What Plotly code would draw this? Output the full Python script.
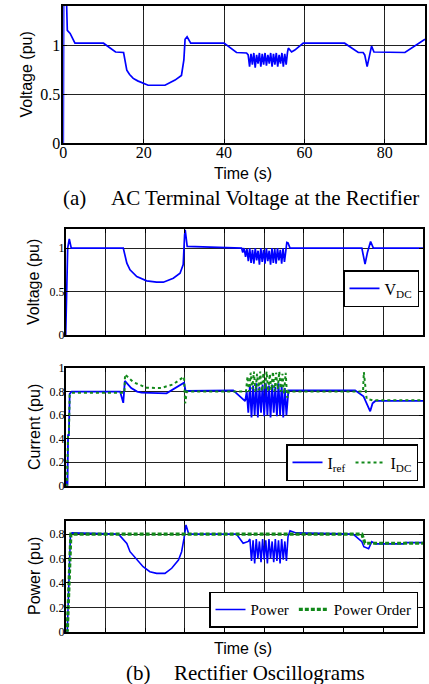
import plotly.graph_objects as go

# ---------------- data ----------------
# (a) AC terminal voltage at the rectifier
t_ac = [0, 0.1, 0.8, 1.0, 1.7, 2.9, 10.0, 13.0, 15.0, 15.8, 16.5, 17.4, 18.5, 19.9, 21.1, 25.3, 27.8,
        29.4, 30.0, 30.3, 30.8, 31.7, 40.0, 43.1, 45.6,
        46.0, 46.35, 46.7, 47.05, 47.4, 47.75, 48.1, 48.45, 48.8, 49.15, 49.5, 49.85, 50.2, 50.55,
        50.9, 51.25, 51.6, 51.95, 52.3, 52.65, 53.0, 53.35, 53.7, 54.05, 54.4, 54.75, 55.1, 55.45,
        55.8, 56.0, 56.8, 57.6, 59.7, 70.0, 73.4, 74.6, 75.0, 75.6, 76.7, 77.3, 85.0, 90.0]
v_ac = [0, 1.5, 1.45, 1.15, 1.12, 1.02, 1.02, 0.93, 0.925, 0.745, 0.70, 0.66, 0.635, 0.61, 0.59, 0.59, 0.643,
        0.69, 0.85, 1.06, 1.085, 1.02, 1.02, 0.925, 0.92,
        0.90, 0.78, 0.91, 0.80, 0.92, 0.77, 0.90, 0.81, 0.92, 0.78, 0.91, 0.80, 0.92, 0.79,
        0.90, 0.81, 0.92, 0.78, 0.91, 0.80, 0.92, 0.78, 0.90, 0.81, 0.92, 0.78, 0.91, 0.80,
        0.93, 0.97, 0.93, 0.95, 1.02, 1.02, 0.925, 0.925, 0.90, 0.78, 0.99, 0.93, 0.925, 1.06]

# (b) DC voltage
t_vdc = [0, 0.2, 0.35, 0.5, 0.9, 1.4, 14.5, 15.4, 16.2, 17.9, 20.4, 22.9, 24.6, 27.1, 28.8, 29.6,
         29.95, 30.1, 30.6, 44.3,
         44.6, 44.95, 45.3, 45.65, 46.0, 46.35, 46.7, 47.05, 47.4, 47.75, 48.1, 48.45, 48.8, 49.15,
         49.5, 49.85, 50.2, 50.55, 50.9, 51.25, 51.6, 51.95, 52.3, 52.65, 53.0, 53.35, 53.7, 54.05,
         54.4, 54.75, 55.1, 55.45,
         55.7, 56.0, 56.5, 74.6, 75.4, 76.0, 76.8, 77.5, 90.0]
v_dc = [0, 0.4, 0.85, 1.0, 1.107, 1.0, 1.0, 0.827, 0.75, 0.672, 0.623, 0.608, 0.608, 0.654, 0.71, 0.81,
        1.15, 1.21, 1.02, 1.0,
        0.95, 1.0, 0.90, 0.99, 0.85, 1.0, 0.83, 0.98, 0.82, 1.0, 0.86, 0.97, 0.81, 1.0,
        0.84, 0.98, 0.82, 1.0, 0.85, 0.97, 0.81, 1.0, 0.83, 0.99, 0.82, 1.0, 0.86, 0.98,
        0.82, 1.0, 0.84, 0.99,
        1.065, 1.06, 1.0, 1.0, 0.815, 0.95, 1.076, 1.0, 1.0]

# (b) currents
t_iref = [0, 0.15, 0.3, 0.45, 0.6, 0.8, 1.0, 1.5, 13.7, 14.5, 14.9, 16.5, 18.0, 19.1, 25.4, 29.8, 30.2,
          42.2, 45.2,
          45.6, 46.0, 46.4, 46.8, 47.2, 47.6, 48.0, 48.4, 48.8, 49.2, 49.6, 50.0, 50.4, 50.8, 51.2,
          51.6, 52.0, 52.4, 52.8, 53.2, 53.6, 54.0, 54.4, 54.8, 55.2, 55.6,
          56.1, 56.5, 72.9, 75.0, 76.7, 77.3, 78.0, 90.0]
i_ref = [0, 0.06, 0.0, 0.0, 0.43, 0.43, 0.78, 0.80, 0.80, 0.704, 0.89, 0.83, 0.80, 0.79, 0.785, 0.875, 0.805,
         0.81, 0.718,
         0.80, 0.62, 0.86, 0.58, 0.85, 0.60, 0.87, 0.58, 0.84, 0.62, 0.86, 0.59, 0.87, 0.60, 0.85,
         0.58, 0.86, 0.62, 0.84, 0.59, 0.87, 0.60, 0.85, 0.58, 0.83, 0.60,
         0.81, 0.81, 0.81, 0.76, 0.632, 0.70, 0.72, 0.72]

t_idc = [0, 0.3, 0.6, 0.8, 1.0, 1.5, 14.8, 14.95, 17.0, 20.4, 24.0, 27.0, 29.8, 30.1, 30.5, 45.2,
         45.4, 45.8, 46.2, 46.6, 47.0, 47.4, 47.8, 48.2, 48.6, 49.0, 49.4, 49.8, 50.2, 50.6, 51.0,
         51.4, 51.8, 52.2, 52.6, 53.0, 53.4, 53.8, 54.2, 54.6, 55.0, 55.4,
         55.8, 56.2, 74.9, 75.1, 75.8, 77.3, 90.0]
i_dc = [0, 0.0, 0.43, 0.43, 0.77, 0.79, 0.79, 0.946, 0.88, 0.832, 0.83, 0.86, 0.926, 0.70, 0.80, 0.80,
        0.80, 0.93, 0.80, 0.96, 0.82, 0.97, 0.80, 0.95, 0.81, 0.97, 0.80, 0.96, 0.82, 0.97, 0.80,
        0.95, 0.81, 0.97, 0.80, 0.96, 0.82, 0.97, 0.80, 0.95, 0.78, 0.96,
        0.747, 0.80, 0.80, 0.966, 0.738, 0.725, 0.725]

# (b) power
t_pord = [0, 0.4, 1.3, 74.6, 75.4, 90.0]
p_ord = [0, 0, 0.80, 0.80, 0.725, 0.725]

t_pow = [0, 0.4, 1.2, 1.6, 13.3, 14.5, 15.4, 16.2, 17.9, 19.5, 21.2, 22.9, 25.0, 26.7, 28.4, 29.2,
         29.8, 30.3, 31.0, 43.0, 44.7, 46.0,
         46.4, 46.8, 47.2, 47.6, 48.0, 48.4, 48.8, 49.2, 49.6, 50.0, 50.4, 50.8, 51.2, 51.6, 52.0,
         52.4, 52.8, 53.2, 53.6, 54.0, 54.4, 54.8, 55.2, 55.6,
         56.0, 56.5, 58.0, 72.4, 74.6, 75.1, 76.3, 77.1, 78.0, 85.0, 85.5, 90.0]
p_pow = [0, 0, 0.80, 0.81, 0.80, 0.752, 0.724, 0.656, 0.588, 0.533, 0.492, 0.478, 0.478, 0.52, 0.588, 0.656,
         0.765, 0.875, 0.80, 0.80, 0.725, 0.74,
         0.76, 0.58, 0.75, 0.56, 0.76, 0.60, 0.74, 0.57, 0.76, 0.59, 0.75, 0.56, 0.76, 0.60, 0.74,
         0.57, 0.76, 0.58, 0.75, 0.56, 0.76, 0.59, 0.74, 0.58,
         0.78, 0.828, 0.81, 0.80, 0.738, 0.697, 0.68, 0.738, 0.72, 0.72, 0.73, 0.73]

BLUE = "#0000FF"
GREEN = "#12891A"
SERIF = "Liberation Serif, Times New Roman, serif"
SANS = "Liberation Sans, Arial, sans-serif"

W, H = 429, 684


def px_x(p):
    return p / W


def px_y(p):
    return 1 - p / H


fig = go.Figure()

fig.add_trace(go.Scatter(x=t_ac, y=v_ac, mode="lines", line=dict(color=BLUE, width=1.7),
                         xaxis="x", yaxis="y", showlegend=False))
fig.add_trace(go.Scatter(x=t_vdc, y=v_dc, mode="lines", name="V<sub>DC</sub>",
                         line=dict(color=BLUE, width=1.7), xaxis="x2", yaxis="y2", legend="legend"))
fig.add_trace(go.Scatter(x=t_iref, y=i_ref, mode="lines", name="I<sub>ref</sub>",
                         line=dict(color=BLUE, width=1.8), xaxis="x3", yaxis="y3", legend="legend2"))
fig.add_trace(go.Scatter(x=t_idc, y=i_dc, mode="lines", name="I<sub>DC</sub>",
                         line=dict(color=GREEN, width=2, dash="dot"), xaxis="x3", yaxis="y3", legend="legend2"))
fig.add_trace(go.Scatter(x=t_pow, y=p_pow, mode="lines", name="Power",
                         line=dict(color=BLUE, width=1.6), xaxis="x4", yaxis="y4", legend="legend3"))
fig.add_trace(go.Scatter(x=t_pord, y=p_ord, mode="lines", name="Power Order",
                         line=dict(color=GREEN, width=3.2, dash="4px,2px"), xaxis="x4", yaxis="y4",
                         legend="legend3"))

common = dict(showline=True, linecolor="black", linewidth=1.5, mirror="ticks", ticks="inside",
              ticklen=4, tickcolor="black", showgrid=True, gridcolor="#222222", gridwidth=1,
              zeroline=False, automargin=False)

xa_dom = [px_x(63.3), px_x(425)]
xb_dom = [px_x(65.7), px_x(423)]

layout = dict(
    width=W, height=H, autosize=False, margin=dict(l=0, r=0, t=0, b=0, pad=0),
    paper_bgcolor="white", plot_bgcolor="white",
    xaxis=dict(domain=xa_dom, anchor="y", range=[0, 90], tickvals=[0, 20, 40, 60, 80],
               tickfont=dict(family=SERIF, size=16, color="black"), ticklabelstandoff=-6, **common),
    yaxis=dict(domain=[px_y(143), px_y(6)], anchor="x", range=[0, 1.4], tickvals=[0, 0.5, 1],
               ticktext=["0", "0.5", "1"], tickfont=dict(family=SERIF, size=16, color="black"),
               ticklabelstandoff=-2, **common),
    xaxis2=dict(domain=xb_dom, anchor="y2", range=[0, 90], dtick=10, tick0=0, showticklabels=False, **common),
    yaxis2=dict(domain=[px_y(335), px_y(229)], anchor="x2", range=[0, 1.22], tickvals=[0, 0.5, 1],
                ticktext=["0", "0.5", "1"], tickfont=dict(family=SERIF, size=12, color="black"),
                ticklabelstandoff=-3, **common),
    xaxis3=dict(domain=xb_dom, anchor="y3", range=[0, 90], dtick=10, tick0=0, showticklabels=False, **common),
    yaxis3=dict(domain=[px_y(485.7), px_y(368)], anchor="x3", range=[0, 1.0],
                tickvals=[0, 0.2, 0.4, 0.6, 0.8, 1.0], ticktext=["0", "0.2", "0.4", "0.6", "0.8", "1"],
                tickfont=dict(family=SERIF, size=12, color="black"), ticklabelstandoff=-3, **common),
    xaxis4=dict(domain=xb_dom, anchor="y4", range=[0, 90], dtick=10, tick0=0, showticklabels=False, **common),
    yaxis4=dict(domain=[px_y(631.7), px_y(520.7)], anchor="x4", range=[0, 0.91],
                tickvals=[0, 0.2, 0.4, 0.6, 0.8], ticktext=["0", "0.2", "0.4", "0.6", "0.8"],
                tickfont=dict(family=SERIF, size=12, color="black"), ticklabelstandoff=-3, **common),
    legend=dict(x=px_x(419), y=px_y(307), xanchor="right", yanchor="bottom",
                bgcolor="white", bordercolor="black", borderwidth=1.5,
                font=dict(family=SERIF, size=16, color="black"), itemwidth=30,
                tracegroupgap=0),
    legend2=dict(x=px_x(418), y=px_y(481), xanchor="right", yanchor="bottom", orientation="h",
                 bgcolor="white", bordercolor="black", borderwidth=1.5,
                 font=dict(family=SERIF, size=16, color="black"), itemwidth=30),
    legend3=dict(x=px_x(418), y=px_y(627.7), xanchor="right", yanchor="bottom", orientation="h",
                 bgcolor="white", bordercolor="black", borderwidth=1.5,
                 font=dict(family=SERIF, size=15, color="black"), itemwidth=30),
)
fig.update_layout(**layout)

ann = []


def add_text(text, x, y, size, family, angle=0, xanchor="center"):
    ann.append(dict(text=text, x=px_x(x), y=px_y(y), xref="paper", yref="paper", showarrow=False,
                    textangle=angle, xanchor=xanchor, yanchor="middle",
                    font=dict(family=family, size=size, color="black")))


add_text("Voltage (pu)", 26, 74.5, 16, SANS, -90)
add_text("Time (s)", 243, 173, 16, SANS)
add_text("(a)", 61, 198, 21, SERIF, xanchor="left")
add_text("AC Terminal Voltage at the Rectifier", 109, 198, 21, SERIF, xanchor="left")
add_text("Voltage (pu)", 34, 282, 16, SANS, -90)
add_text("Current (pu)", 34, 427, 16, SANS, -90)
add_text("Power (pu)", 34, 576, 16, SANS, -90)
add_text("Time (s)", 243, 648, 16, SANS)
add_text("(b)", 124, 673, 21, SERIF, xanchor="left")
add_text("Rectifier Oscillograms", 172, 673, 21, SERIF, xanchor="left")

fig.update_layout(annotations=ann)
fig.write_html("out.html", config={"displayModeBar": False, "responsive": False},
               post_script="document.body.style.margin='0px';document.body.style.overflow='hidden';")
